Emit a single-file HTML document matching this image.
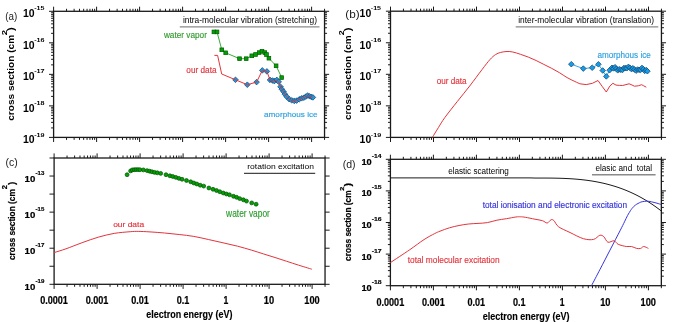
<!DOCTYPE html>
<html><head><meta charset="utf-8"><style>
html,body{margin:0;padding:0;background:#fff;width:685px;height:322px;overflow:hidden}
svg{display:block} svg{will-change:transform;filter:blur(0.3px)}
text{font-family:"Liberation Sans", sans-serif}
</style></head><body>
<svg width="685" height="322" viewBox="0 0 685 322" font-family='"Liberation Sans", sans-serif'>
<rect width="685" height="322" fill="#fff"/>
<path d="M53.6 11.3v-4.6M53.6 137.4v4.6M66.54 11.3v-2.5M66.54 137.4v2.5M74.12 11.3v-2.5M74.12 137.4v2.5M79.49 11.3v-2.5M79.49 137.4v2.5M83.66 11.3v-2.5M83.66 137.4v2.5M87.06 11.3v-2.5M87.06 137.4v2.5M89.94 11.3v-2.5M89.94 137.4v2.5M92.43 11.3v-2.5M92.43 137.4v2.5M94.63 11.3v-2.5M94.63 137.4v2.5M96.6 11.3v-4.6M96.6 137.4v4.6M109.54 11.3v-2.5M109.54 137.4v2.5M117.12 11.3v-2.5M117.12 137.4v2.5M122.49 11.3v-2.5M122.49 137.4v2.5M126.66 11.3v-2.5M126.66 137.4v2.5M130.06 11.3v-2.5M130.06 137.4v2.5M132.94 11.3v-2.5M132.94 137.4v2.5M135.43 11.3v-2.5M135.43 137.4v2.5M137.63 11.3v-2.5M137.63 137.4v2.5M139.6 11.3v-4.6M139.6 137.4v4.6M152.54 11.3v-2.5M152.54 137.4v2.5M160.12 11.3v-2.5M160.12 137.4v2.5M165.49 11.3v-2.5M165.49 137.4v2.5M169.66 11.3v-2.5M169.66 137.4v2.5M173.06 11.3v-2.5M173.06 137.4v2.5M175.94 11.3v-2.5M175.94 137.4v2.5M178.43 11.3v-2.5M178.43 137.4v2.5M180.63 11.3v-2.5M180.63 137.4v2.5M182.6 11.3v-4.6M182.6 137.4v4.6M195.54 11.3v-2.5M195.54 137.4v2.5M203.12 11.3v-2.5M203.12 137.4v2.5M208.49 11.3v-2.5M208.49 137.4v2.5M212.66 11.3v-2.5M212.66 137.4v2.5M216.06 11.3v-2.5M216.06 137.4v2.5M218.94 11.3v-2.5M218.94 137.4v2.5M221.43 11.3v-2.5M221.43 137.4v2.5M223.63 11.3v-2.5M223.63 137.4v2.5M225.6 11.3v-4.6M225.6 137.4v4.6M238.54 11.3v-2.5M238.54 137.4v2.5M246.12 11.3v-2.5M246.12 137.4v2.5M251.49 11.3v-2.5M251.49 137.4v2.5M255.66 11.3v-2.5M255.66 137.4v2.5M259.06 11.3v-2.5M259.06 137.4v2.5M261.94 11.3v-2.5M261.94 137.4v2.5M264.43 11.3v-2.5M264.43 137.4v2.5M266.63 11.3v-2.5M266.63 137.4v2.5M268.6 11.3v-4.6M268.6 137.4v4.6M281.54 11.3v-2.5M281.54 137.4v2.5M289.12 11.3v-2.5M289.12 137.4v2.5M294.49 11.3v-2.5M294.49 137.4v2.5M298.66 11.3v-2.5M298.66 137.4v2.5M302.06 11.3v-2.5M302.06 137.4v2.5M304.94 11.3v-2.5M304.94 137.4v2.5M307.43 11.3v-2.5M307.43 137.4v2.5M309.63 11.3v-2.5M309.63 137.4v2.5M311.6 11.3v-4.6M311.6 137.4v4.6M324.54 11.3v-2.5M324.54 137.4v2.5M53.6 137.4h-4.6M324.54 137.4h4.6M53.6 127.91h-2.5M324.54 127.91h2.5M53.6 122.36h-2.5M324.54 122.36h2.5M53.6 118.42h-2.5M324.54 118.42h2.5M53.6 115.36h-2.5M324.54 115.36h2.5M53.6 112.87h-2.5M324.54 112.87h2.5M53.6 110.76h-2.5M324.54 110.76h2.5M53.6 108.93h-2.5M324.54 108.93h2.5M53.6 107.32h-2.5M324.54 107.32h2.5M53.6 105.88h-4.6M324.54 105.88h4.6M53.6 96.39h-2.5M324.54 96.39h2.5M53.6 90.83h-2.5M324.54 90.83h2.5M53.6 86.9h-2.5M324.54 86.9h2.5M53.6 83.84h-2.5M324.54 83.84h2.5M53.6 81.34h-2.5M324.54 81.34h2.5M53.6 79.23h-2.5M324.54 79.23h2.5M53.6 77.41h-2.5M324.54 77.41h2.5M53.6 75.79h-2.5M324.54 75.79h2.5M53.6 74.35h-4.6M324.54 74.35h4.6M53.6 64.86h-2.5M324.54 64.86h2.5M53.6 59.31h-2.5M324.54 59.31h2.5M53.6 55.37h-2.5M324.54 55.37h2.5M53.6 52.31h-2.5M324.54 52.31h2.5M53.6 49.82h-2.5M324.54 49.82h2.5M53.6 47.71h-2.5M324.54 47.71h2.5M53.6 45.88h-2.5M324.54 45.88h2.5M53.6 44.27h-2.5M324.54 44.27h2.5M53.6 42.83h-4.6M324.54 42.83h4.6M53.6 33.34h-2.5M324.54 33.34h2.5M53.6 27.78h-2.5M324.54 27.78h2.5M53.6 23.85h-2.5M324.54 23.85h2.5M53.6 20.79h-2.5M324.54 20.79h2.5M53.6 18.29h-2.5M324.54 18.29h2.5M53.6 16.18h-2.5M324.54 16.18h2.5M53.6 14.36h-2.5M324.54 14.36h2.5M53.6 12.74h-2.5M324.54 12.74h2.5M53.6 11.3h-4.6M324.54 11.3h4.6" stroke="#1a1a1a" stroke-width="1" fill="none"/>
<rect x="53.6" y="11.3" width="270.94" height="126.1" stroke="#1a1a1a" stroke-width="1.3" fill="none"/>
<path d="M390.5 11.2v-4.6M390.5 137.4v4.6M403.44 11.2v-2.5M403.44 137.4v2.5M411.02 11.2v-2.5M411.02 137.4v2.5M416.39 11.2v-2.5M416.39 137.4v2.5M420.56 11.2v-2.5M420.56 137.4v2.5M423.96 11.2v-2.5M423.96 137.4v2.5M426.84 11.2v-2.5M426.84 137.4v2.5M429.33 11.2v-2.5M429.33 137.4v2.5M431.53 11.2v-2.5M431.53 137.4v2.5M433.5 11.2v-4.6M433.5 137.4v4.6M446.44 11.2v-2.5M446.44 137.4v2.5M454.02 11.2v-2.5M454.02 137.4v2.5M459.39 11.2v-2.5M459.39 137.4v2.5M463.56 11.2v-2.5M463.56 137.4v2.5M466.96 11.2v-2.5M466.96 137.4v2.5M469.84 11.2v-2.5M469.84 137.4v2.5M472.33 11.2v-2.5M472.33 137.4v2.5M474.53 11.2v-2.5M474.53 137.4v2.5M476.5 11.2v-4.6M476.5 137.4v4.6M489.44 11.2v-2.5M489.44 137.4v2.5M497.02 11.2v-2.5M497.02 137.4v2.5M502.39 11.2v-2.5M502.39 137.4v2.5M506.56 11.2v-2.5M506.56 137.4v2.5M509.96 11.2v-2.5M509.96 137.4v2.5M512.84 11.2v-2.5M512.84 137.4v2.5M515.33 11.2v-2.5M515.33 137.4v2.5M517.53 11.2v-2.5M517.53 137.4v2.5M519.5 11.2v-4.6M519.5 137.4v4.6M532.44 11.2v-2.5M532.44 137.4v2.5M540.02 11.2v-2.5M540.02 137.4v2.5M545.39 11.2v-2.5M545.39 137.4v2.5M549.56 11.2v-2.5M549.56 137.4v2.5M552.96 11.2v-2.5M552.96 137.4v2.5M555.84 11.2v-2.5M555.84 137.4v2.5M558.33 11.2v-2.5M558.33 137.4v2.5M560.53 11.2v-2.5M560.53 137.4v2.5M562.5 11.2v-4.6M562.5 137.4v4.6M575.44 11.2v-2.5M575.44 137.4v2.5M583.02 11.2v-2.5M583.02 137.4v2.5M588.39 11.2v-2.5M588.39 137.4v2.5M592.56 11.2v-2.5M592.56 137.4v2.5M595.96 11.2v-2.5M595.96 137.4v2.5M598.84 11.2v-2.5M598.84 137.4v2.5M601.33 11.2v-2.5M601.33 137.4v2.5M603.53 11.2v-2.5M603.53 137.4v2.5M605.5 11.2v-4.6M605.5 137.4v4.6M618.44 11.2v-2.5M618.44 137.4v2.5M626.02 11.2v-2.5M626.02 137.4v2.5M631.39 11.2v-2.5M631.39 137.4v2.5M635.56 11.2v-2.5M635.56 137.4v2.5M638.96 11.2v-2.5M638.96 137.4v2.5M641.84 11.2v-2.5M641.84 137.4v2.5M644.33 11.2v-2.5M644.33 137.4v2.5M646.53 11.2v-2.5M646.53 137.4v2.5M648.5 11.2v-4.6M648.5 137.4v4.6M661.44 11.2v-2.5M661.44 137.4v2.5M390.5 137.4h-4.6M661.44 137.4h4.6M390.5 127.9h-2.5M661.44 127.9h2.5M390.5 122.35h-2.5M661.44 122.35h2.5M390.5 118.41h-2.5M661.44 118.41h2.5M390.5 115.35h-2.5M661.44 115.35h2.5M390.5 112.85h-2.5M661.44 112.85h2.5M390.5 110.74h-2.5M661.44 110.74h2.5M390.5 108.91h-2.5M661.44 108.91h2.5M390.5 107.29h-2.5M661.44 107.29h2.5M390.5 105.85h-4.6M661.44 105.85h4.6M390.5 96.35h-2.5M661.44 96.35h2.5M390.5 90.8h-2.5M661.44 90.8h2.5M390.5 86.86h-2.5M661.44 86.86h2.5M390.5 83.8h-2.5M661.44 83.8h2.5M390.5 81.3h-2.5M661.44 81.3h2.5M390.5 79.19h-2.5M661.44 79.19h2.5M390.5 77.36h-2.5M661.44 77.36h2.5M390.5 75.74h-2.5M661.44 75.74h2.5M390.5 74.3h-4.6M661.44 74.3h4.6M390.5 64.8h-2.5M661.44 64.8h2.5M390.5 59.25h-2.5M661.44 59.25h2.5M390.5 55.31h-2.5M661.44 55.31h2.5M390.5 52.25h-2.5M661.44 52.25h2.5M390.5 49.75h-2.5M661.44 49.75h2.5M390.5 47.64h-2.5M661.44 47.64h2.5M390.5 45.81h-2.5M661.44 45.81h2.5M390.5 44.19h-2.5M661.44 44.19h2.5M390.5 42.75h-4.6M661.44 42.75h4.6M390.5 33.25h-2.5M661.44 33.25h2.5M390.5 27.7h-2.5M661.44 27.7h2.5M390.5 23.76h-2.5M661.44 23.76h2.5M390.5 20.7h-2.5M661.44 20.7h2.5M390.5 18.2h-2.5M661.44 18.2h2.5M390.5 16.09h-2.5M661.44 16.09h2.5M390.5 14.26h-2.5M661.44 14.26h2.5M390.5 12.64h-2.5M661.44 12.64h2.5M390.5 11.2h-4.6M661.44 11.2h4.6" stroke="#1a1a1a" stroke-width="1" fill="none"/>
<rect x="390.5" y="11.2" width="270.94" height="126.2" stroke="#1a1a1a" stroke-width="1.3" fill="none"/>
<path d="M54.1 158v-4.6M54.1 284.3v4.6M67.04 158v-2.5M67.04 284.3v2.5M74.62 158v-2.5M74.62 284.3v2.5M79.99 158v-2.5M79.99 284.3v2.5M84.16 158v-2.5M84.16 284.3v2.5M87.56 158v-2.5M87.56 284.3v2.5M90.44 158v-2.5M90.44 284.3v2.5M92.93 158v-2.5M92.93 284.3v2.5M95.13 158v-2.5M95.13 284.3v2.5M97.1 158v-4.6M97.1 284.3v4.6M110.04 158v-2.5M110.04 284.3v2.5M117.62 158v-2.5M117.62 284.3v2.5M122.99 158v-2.5M122.99 284.3v2.5M127.16 158v-2.5M127.16 284.3v2.5M130.56 158v-2.5M130.56 284.3v2.5M133.44 158v-2.5M133.44 284.3v2.5M135.93 158v-2.5M135.93 284.3v2.5M138.13 158v-2.5M138.13 284.3v2.5M140.1 158v-4.6M140.1 284.3v4.6M153.04 158v-2.5M153.04 284.3v2.5M160.62 158v-2.5M160.62 284.3v2.5M165.99 158v-2.5M165.99 284.3v2.5M170.16 158v-2.5M170.16 284.3v2.5M173.56 158v-2.5M173.56 284.3v2.5M176.44 158v-2.5M176.44 284.3v2.5M178.93 158v-2.5M178.93 284.3v2.5M181.13 158v-2.5M181.13 284.3v2.5M183.1 158v-4.6M183.1 284.3v4.6M196.04 158v-2.5M196.04 284.3v2.5M203.62 158v-2.5M203.62 284.3v2.5M208.99 158v-2.5M208.99 284.3v2.5M213.16 158v-2.5M213.16 284.3v2.5M216.56 158v-2.5M216.56 284.3v2.5M219.44 158v-2.5M219.44 284.3v2.5M221.93 158v-2.5M221.93 284.3v2.5M224.13 158v-2.5M224.13 284.3v2.5M226.1 158v-4.6M226.1 284.3v4.6M239.04 158v-2.5M239.04 284.3v2.5M246.62 158v-2.5M246.62 284.3v2.5M251.99 158v-2.5M251.99 284.3v2.5M256.16 158v-2.5M256.16 284.3v2.5M259.56 158v-2.5M259.56 284.3v2.5M262.44 158v-2.5M262.44 284.3v2.5M264.93 158v-2.5M264.93 284.3v2.5M267.13 158v-2.5M267.13 284.3v2.5M269.1 158v-4.6M269.1 284.3v4.6M282.04 158v-2.5M282.04 284.3v2.5M289.62 158v-2.5M289.62 284.3v2.5M294.99 158v-2.5M294.99 284.3v2.5M299.16 158v-2.5M299.16 284.3v2.5M302.56 158v-2.5M302.56 284.3v2.5M305.44 158v-2.5M305.44 284.3v2.5M307.93 158v-2.5M307.93 284.3v2.5M310.13 158v-2.5M310.13 284.3v2.5M312.1 158v-4.6M312.1 284.3v4.6M325.04 158v-2.5M325.04 284.3v2.5M54.1 284.3h-4.6M325.04 284.3h4.6M54.1 266.26h-4.6M325.04 266.26h4.6M54.1 248.21h-4.6M325.04 248.21h4.6M54.1 230.17h-4.6M325.04 230.17h4.6M54.1 212.13h-4.6M325.04 212.13h4.6M54.1 194.09h-4.6M325.04 194.09h4.6M54.1 176.04h-4.6M325.04 176.04h4.6M54.1 158h-4.6M325.04 158h4.6" stroke="#1a1a1a" stroke-width="1" fill="none"/>
<rect x="54.1" y="158" width="270.94" height="126.3" stroke="#1a1a1a" stroke-width="1.3" fill="none"/>
<path d="M390.4 159.3v-4.6M390.4 285.7v4.6M403.34 159.3v-2.5M403.34 285.7v2.5M410.92 159.3v-2.5M410.92 285.7v2.5M416.29 159.3v-2.5M416.29 285.7v2.5M420.46 159.3v-2.5M420.46 285.7v2.5M423.86 159.3v-2.5M423.86 285.7v2.5M426.74 159.3v-2.5M426.74 285.7v2.5M429.23 159.3v-2.5M429.23 285.7v2.5M431.43 159.3v-2.5M431.43 285.7v2.5M433.4 159.3v-4.6M433.4 285.7v4.6M446.34 159.3v-2.5M446.34 285.7v2.5M453.92 159.3v-2.5M453.92 285.7v2.5M459.29 159.3v-2.5M459.29 285.7v2.5M463.46 159.3v-2.5M463.46 285.7v2.5M466.86 159.3v-2.5M466.86 285.7v2.5M469.74 159.3v-2.5M469.74 285.7v2.5M472.23 159.3v-2.5M472.23 285.7v2.5M474.43 159.3v-2.5M474.43 285.7v2.5M476.4 159.3v-4.6M476.4 285.7v4.6M489.34 159.3v-2.5M489.34 285.7v2.5M496.92 159.3v-2.5M496.92 285.7v2.5M502.29 159.3v-2.5M502.29 285.7v2.5M506.46 159.3v-2.5M506.46 285.7v2.5M509.86 159.3v-2.5M509.86 285.7v2.5M512.74 159.3v-2.5M512.74 285.7v2.5M515.23 159.3v-2.5M515.23 285.7v2.5M517.43 159.3v-2.5M517.43 285.7v2.5M519.4 159.3v-4.6M519.4 285.7v4.6M532.34 159.3v-2.5M532.34 285.7v2.5M539.92 159.3v-2.5M539.92 285.7v2.5M545.29 159.3v-2.5M545.29 285.7v2.5M549.46 159.3v-2.5M549.46 285.7v2.5M552.86 159.3v-2.5M552.86 285.7v2.5M555.74 159.3v-2.5M555.74 285.7v2.5M558.23 159.3v-2.5M558.23 285.7v2.5M560.43 159.3v-2.5M560.43 285.7v2.5M562.4 159.3v-4.6M562.4 285.7v4.6M575.34 159.3v-2.5M575.34 285.7v2.5M582.92 159.3v-2.5M582.92 285.7v2.5M588.29 159.3v-2.5M588.29 285.7v2.5M592.46 159.3v-2.5M592.46 285.7v2.5M595.86 159.3v-2.5M595.86 285.7v2.5M598.74 159.3v-2.5M598.74 285.7v2.5M601.23 159.3v-2.5M601.23 285.7v2.5M603.43 159.3v-2.5M603.43 285.7v2.5M605.4 159.3v-4.6M605.4 285.7v4.6M618.34 159.3v-2.5M618.34 285.7v2.5M625.92 159.3v-2.5M625.92 285.7v2.5M631.29 159.3v-2.5M631.29 285.7v2.5M635.46 159.3v-2.5M635.46 285.7v2.5M638.86 159.3v-2.5M638.86 285.7v2.5M641.74 159.3v-2.5M641.74 285.7v2.5M644.23 159.3v-2.5M644.23 285.7v2.5M646.43 159.3v-2.5M646.43 285.7v2.5M648.4 159.3v-4.6M648.4 285.7v4.6M661.34 159.3v-2.5M661.34 285.7v2.5M390.4 285.7h-4.6M661.34 285.7h4.6M390.4 276.19h-2.5M661.34 276.19h2.5M390.4 270.62h-2.5M661.34 270.62h2.5M390.4 266.67h-2.5M661.34 266.67h2.5M390.4 263.61h-2.5M661.34 263.61h2.5M390.4 261.11h-2.5M661.34 261.11h2.5M390.4 258.99h-2.5M661.34 258.99h2.5M390.4 257.16h-2.5M661.34 257.16h2.5M390.4 255.55h-2.5M661.34 255.55h2.5M390.4 254.1h-4.6M661.34 254.1h4.6M390.4 244.59h-2.5M661.34 244.59h2.5M390.4 239.02h-2.5M661.34 239.02h2.5M390.4 235.07h-2.5M661.34 235.07h2.5M390.4 232.01h-2.5M661.34 232.01h2.5M390.4 229.51h-2.5M661.34 229.51h2.5M390.4 227.39h-2.5M661.34 227.39h2.5M390.4 225.56h-2.5M661.34 225.56h2.5M390.4 223.95h-2.5M661.34 223.95h2.5M390.4 222.5h-4.6M661.34 222.5h4.6M390.4 212.99h-2.5M661.34 212.99h2.5M390.4 207.42h-2.5M661.34 207.42h2.5M390.4 203.47h-2.5M661.34 203.47h2.5M390.4 200.41h-2.5M661.34 200.41h2.5M390.4 197.91h-2.5M661.34 197.91h2.5M390.4 195.79h-2.5M661.34 195.79h2.5M390.4 193.96h-2.5M661.34 193.96h2.5M390.4 192.35h-2.5M661.34 192.35h2.5M390.4 190.9h-4.6M661.34 190.9h4.6M390.4 181.39h-2.5M661.34 181.39h2.5M390.4 175.82h-2.5M661.34 175.82h2.5M390.4 171.87h-2.5M661.34 171.87h2.5M390.4 168.81h-2.5M661.34 168.81h2.5M390.4 166.31h-2.5M661.34 166.31h2.5M390.4 164.19h-2.5M661.34 164.19h2.5M390.4 162.36h-2.5M661.34 162.36h2.5M390.4 160.75h-2.5M661.34 160.75h2.5M390.4 159.3h-4.6M661.34 159.3h4.6" stroke="#1a1a1a" stroke-width="1" fill="none"/>
<rect x="390.4" y="159.3" width="270.94" height="126.4" stroke="#1a1a1a" stroke-width="1.3" fill="none"/>
<text x="23.02" y="143.4" font-size="10.71" font-weight="bold" fill="#000" textLength="11.62" lengthAdjust="spacingAndGlyphs">10</text>
<text x="34.21" y="136.5" font-size="6.14" font-weight="bold" fill="#000" textLength="10.34" lengthAdjust="spacingAndGlyphs">-19</text>
<text x="23.02" y="111.88" font-size="10.71" font-weight="bold" fill="#000" textLength="11.62" lengthAdjust="spacingAndGlyphs">10</text>
<text x="34.21" y="104.97" font-size="6.14" font-weight="bold" fill="#000" textLength="10.3" lengthAdjust="spacingAndGlyphs">-18</text>
<text x="23.02" y="80.35" font-size="10.71" font-weight="bold" fill="#000" textLength="11.62" lengthAdjust="spacingAndGlyphs">10</text>
<text x="34.21" y="73.45" font-size="6.23" font-weight="bold" fill="#000" textLength="10.42" lengthAdjust="spacingAndGlyphs">-17</text>
<text x="23.02" y="48.83" font-size="10.71" font-weight="bold" fill="#000" textLength="11.62" lengthAdjust="spacingAndGlyphs">10</text>
<text x="34.21" y="41.93" font-size="6.14" font-weight="bold" fill="#000" textLength="10.34" lengthAdjust="spacingAndGlyphs">-16</text>
<text x="23.02" y="17.3" font-size="10.71" font-weight="bold" fill="#000" textLength="11.62" lengthAdjust="spacingAndGlyphs">10</text>
<text x="34.22" y="10.4" font-size="6.23" font-weight="bold" fill="#000" textLength="10.26" lengthAdjust="spacingAndGlyphs">-15</text>
<text x="359.62" y="143.4" font-size="10.71" font-weight="bold" fill="#000" textLength="11.62" lengthAdjust="spacingAndGlyphs">10</text>
<text x="370.81" y="136.5" font-size="6.14" font-weight="bold" fill="#000" textLength="10.34" lengthAdjust="spacingAndGlyphs">-19</text>
<text x="359.62" y="111.85" font-size="10.71" font-weight="bold" fill="#000" textLength="11.62" lengthAdjust="spacingAndGlyphs">10</text>
<text x="370.81" y="104.95" font-size="6.14" font-weight="bold" fill="#000" textLength="10.3" lengthAdjust="spacingAndGlyphs">-18</text>
<text x="359.62" y="80.3" font-size="10.71" font-weight="bold" fill="#000" textLength="11.62" lengthAdjust="spacingAndGlyphs">10</text>
<text x="370.81" y="73.4" font-size="6.23" font-weight="bold" fill="#000" textLength="10.42" lengthAdjust="spacingAndGlyphs">-17</text>
<text x="359.62" y="48.75" font-size="10.71" font-weight="bold" fill="#000" textLength="11.62" lengthAdjust="spacingAndGlyphs">10</text>
<text x="370.81" y="41.85" font-size="6.14" font-weight="bold" fill="#000" textLength="10.34" lengthAdjust="spacingAndGlyphs">-16</text>
<text x="359.62" y="17.2" font-size="10.71" font-weight="bold" fill="#000" textLength="11.62" lengthAdjust="spacingAndGlyphs">10</text>
<text x="370.82" y="10.3" font-size="6.23" font-weight="bold" fill="#000" textLength="10.26" lengthAdjust="spacingAndGlyphs">-15</text>
<text x="24.57" y="181.94" font-size="8.86" font-weight="bold" fill="#000" textLength="10.74" lengthAdjust="spacingAndGlyphs" stroke="#000" stroke-width="0.2">10</text>
<text x="35.55" y="175.04" font-size="5.29" font-weight="bold" fill="#000" textLength="8.86" lengthAdjust="spacingAndGlyphs" stroke="#000" stroke-width="0.15">-13</text>
<text x="24.57" y="218.03" font-size="8.86" font-weight="bold" fill="#000" textLength="10.74" lengthAdjust="spacingAndGlyphs" stroke="#000" stroke-width="0.2">10</text>
<text x="35.56" y="211.13" font-size="5.36" font-weight="bold" fill="#000" textLength="8.8" lengthAdjust="spacingAndGlyphs" stroke="#000" stroke-width="0.15">-15</text>
<text x="24.57" y="254.11" font-size="8.86" font-weight="bold" fill="#000" textLength="10.74" lengthAdjust="spacingAndGlyphs" stroke="#000" stroke-width="0.2">10</text>
<text x="35.55" y="247.21" font-size="5.36" font-weight="bold" fill="#000" textLength="8.93" lengthAdjust="spacingAndGlyphs" stroke="#000" stroke-width="0.15">-17</text>
<text x="24.57" y="290.2" font-size="8.86" font-weight="bold" fill="#000" textLength="10.74" lengthAdjust="spacingAndGlyphs" stroke="#000" stroke-width="0.2">10</text>
<text x="35.55" y="283.3" font-size="5.29" font-weight="bold" fill="#000" textLength="8.86" lengthAdjust="spacingAndGlyphs" stroke="#000" stroke-width="0.15">-19</text>
<text x="361.4" y="291.2" font-size="8.57" font-weight="bold" fill="#000" textLength="10.29" lengthAdjust="spacingAndGlyphs" stroke="#000" stroke-width="0.2">10</text>
<text x="371.73" y="284.2" font-size="5" font-weight="bold" fill="#000" textLength="9.88" lengthAdjust="spacingAndGlyphs" stroke="#000" stroke-width="0.15">-18</text>
<text x="361.4" y="259.6" font-size="8.57" font-weight="bold" fill="#000" textLength="10.29" lengthAdjust="spacingAndGlyphs" stroke="#000" stroke-width="0.2">10</text>
<text x="371.72" y="252.6" font-size="5.07" font-weight="bold" fill="#000" textLength="9.99" lengthAdjust="spacingAndGlyphs" stroke="#000" stroke-width="0.15">-17</text>
<text x="361.4" y="228" font-size="8.57" font-weight="bold" fill="#000" textLength="10.29" lengthAdjust="spacingAndGlyphs" stroke="#000" stroke-width="0.2">10</text>
<text x="371.73" y="221" font-size="5" font-weight="bold" fill="#000" textLength="9.92" lengthAdjust="spacingAndGlyphs" stroke="#000" stroke-width="0.15">-16</text>
<text x="361.4" y="196.4" font-size="8.57" font-weight="bold" fill="#000" textLength="10.29" lengthAdjust="spacingAndGlyphs" stroke="#000" stroke-width="0.2">10</text>
<text x="371.73" y="189.4" font-size="5.07" font-weight="bold" fill="#000" textLength="9.85" lengthAdjust="spacingAndGlyphs" stroke="#000" stroke-width="0.15">-15</text>
<text x="361.4" y="164.8" font-size="8.57" font-weight="bold" fill="#000" textLength="10.29" lengthAdjust="spacingAndGlyphs" stroke="#000" stroke-width="0.2">10</text>
<text x="371.73" y="157.8" font-size="5.07" font-weight="bold" fill="#000" textLength="9.7" lengthAdjust="spacingAndGlyphs" stroke="#000" stroke-width="0.15">-14</text>
<text x="5.31" y="19.9" font-size="10.76" font-weight="normal" fill="#1a1a1a" textLength="12" lengthAdjust="spacingAndGlyphs">(a)</text>
<text x="345.3" y="17.5" font-size="10.48" font-weight="normal" fill="#1a1a1a" textLength="14.33" lengthAdjust="spacingAndGlyphs">(b)</text>
<text x="5.57" y="165.9" font-size="10.62" font-weight="normal" fill="#1a1a1a" textLength="12.16" lengthAdjust="spacingAndGlyphs">(c)</text>
<text x="342.67" y="167.5" font-size="10.76" font-weight="normal" fill="#1a1a1a" textLength="12.89" lengthAdjust="spacingAndGlyphs">(d)</text>
<text transform="translate(13.8,120.4) rotate(-90)" x="-0.4" y="0" font-size="9.38" font-weight="bold" fill="#000" textLength="85.95" lengthAdjust="spacingAndGlyphs">cross section (cm</text>
<text transform="translate(6.7,35) rotate(-90)" x="-0.34" y="0" font-size="7.43" font-weight="bold" fill="#000" textLength="5.33" lengthAdjust="spacingAndGlyphs">2</text>
<text transform="translate(13.8,30.9) rotate(-90)" x="-0.06" y="0" font-size="9.38" font-weight="bold" fill="#000" textLength="3.69" lengthAdjust="spacingAndGlyphs">)</text>
<text transform="translate(350.8,119.7) rotate(-90)" x="-0.4" y="0" font-size="9.1" font-weight="bold" fill="#000" textLength="84.73" lengthAdjust="spacingAndGlyphs">cross section (cm</text>
<text transform="translate(344,35) rotate(-90)" x="-0.31" y="0" font-size="7.29" font-weight="bold" fill="#000" textLength="4.98" lengthAdjust="spacingAndGlyphs">2</text>
<text transform="translate(350.8,31.1) rotate(-90)" x="-0.06" y="0" font-size="9.1" font-weight="bold" fill="#000" textLength="3.69" lengthAdjust="spacingAndGlyphs">)</text>
<text transform="translate(15,259.7) rotate(-90)" x="-0.33" y="0" font-size="9.38" font-weight="bold" fill="#000" textLength="70.96" lengthAdjust="spacingAndGlyphs" stroke="#000" stroke-width="0.2">cross section (cm</text>
<text transform="translate(7.2,189.1) rotate(-90)" x="-0.26" y="0" font-size="6.29" font-weight="bold" fill="#000" textLength="4.17" lengthAdjust="spacingAndGlyphs" stroke="#000" stroke-width="0.2">2</text>
<text transform="translate(15,185) rotate(-90)" x="-0.05" y="0" font-size="9.38" font-weight="bold" fill="#000" textLength="3.33" lengthAdjust="spacingAndGlyphs" stroke="#000" stroke-width="0.2">)</text>
<text transform="translate(351.2,260.6) rotate(-90)" x="-0.33" y="0" font-size="9.1" font-weight="bold" fill="#000" textLength="70.46" lengthAdjust="spacingAndGlyphs" stroke="#000" stroke-width="0.2">cross section (cm</text>
<text transform="translate(343.6,190.4) rotate(-90)" x="-0.26" y="0" font-size="5.71" font-weight="bold" fill="#000" textLength="4.06" lengthAdjust="spacingAndGlyphs" stroke="#000" stroke-width="0.2">2</text>
<text transform="translate(351.2,186.5) rotate(-90)" x="-0.05" y="0" font-size="9.1" font-weight="bold" fill="#000" textLength="3.57" lengthAdjust="spacingAndGlyphs" stroke="#000" stroke-width="0.2">)</text>
<text x="40.13" y="303.8" font-size="10.14" font-weight="bold" fill="#000" textLength="27.8" lengthAdjust="spacingAndGlyphs" stroke="#000" stroke-width="0.2">0.0001</text>
<text x="85.66" y="303.8" font-size="10.14" font-weight="bold" fill="#000" textLength="22.76" lengthAdjust="spacingAndGlyphs" stroke="#000" stroke-width="0.2">0.001</text>
<text x="131.2" y="303.8" font-size="10.14" font-weight="bold" fill="#000" textLength="17.68" lengthAdjust="spacingAndGlyphs" stroke="#000" stroke-width="0.2">0.01</text>
<text x="176.73" y="303.8" font-size="10.14" font-weight="bold" fill="#000" textLength="12.6" lengthAdjust="spacingAndGlyphs" stroke="#000" stroke-width="0.2">0.1</text>
<text x="223.54" y="303.8" font-size="10.29" font-weight="bold" fill="#000" textLength="4.78" lengthAdjust="spacingAndGlyphs" stroke="#000" stroke-width="0.2">1</text>
<text x="263.83" y="303.8" font-size="10.14" font-weight="bold" fill="#000" textLength="10.34" lengthAdjust="spacingAndGlyphs" stroke="#000" stroke-width="0.2">10</text>
<text x="304.29" y="303.8" font-size="10.14" font-weight="bold" fill="#000" textLength="15.41" lengthAdjust="spacingAndGlyphs" stroke="#000" stroke-width="0.2">100</text>
<text x="376.43" y="305.9" font-size="10.57" font-weight="bold" fill="#000" textLength="27.8" lengthAdjust="spacingAndGlyphs" stroke="#000" stroke-width="0.2">0.0001</text>
<text x="421.96" y="305.9" font-size="10.57" font-weight="bold" fill="#000" textLength="22.76" lengthAdjust="spacingAndGlyphs" stroke="#000" stroke-width="0.2">0.001</text>
<text x="467.5" y="305.9" font-size="10.57" font-weight="bold" fill="#000" textLength="17.68" lengthAdjust="spacingAndGlyphs" stroke="#000" stroke-width="0.2">0.01</text>
<text x="513.03" y="305.9" font-size="10.57" font-weight="bold" fill="#000" textLength="12.6" lengthAdjust="spacingAndGlyphs" stroke="#000" stroke-width="0.2">0.1</text>
<text x="559.84" y="305.9" font-size="10.72" font-weight="bold" fill="#000" textLength="4.78" lengthAdjust="spacingAndGlyphs" stroke="#000" stroke-width="0.2">1</text>
<text x="600.13" y="305.9" font-size="10.57" font-weight="bold" fill="#000" textLength="10.34" lengthAdjust="spacingAndGlyphs" stroke="#000" stroke-width="0.2">10</text>
<text x="640.59" y="305.9" font-size="10.57" font-weight="bold" fill="#000" textLength="15.41" lengthAdjust="spacingAndGlyphs" stroke="#000" stroke-width="0.2">100</text>
<text x="146.24" y="318" font-size="10.07" font-weight="bold" fill="#000" textLength="86.2" lengthAdjust="spacingAndGlyphs" stroke="#000" stroke-width="0.15">electron energy (eV)</text>
<text x="482.74" y="319.7" font-size="10.48" font-weight="bold" fill="#000" textLength="86.71" lengthAdjust="spacingAndGlyphs" stroke="#000" stroke-width="0.15">electron energy (eV)</text>
<text x="182.95" y="22.8" font-size="8.55" font-weight="normal" fill="#000" textLength="134.06" lengthAdjust="spacingAndGlyphs">intra-molecular vibration (stretching)</text>
<line x1="179.8" y1="26.9" x2="319.5" y2="26.9" stroke="#8a8a8a" stroke-width="1.4"/>
<text x="518.26" y="22.8" font-size="8.55" font-weight="normal" fill="#000" textLength="135.78" lengthAdjust="spacingAndGlyphs">inter-molecular vibration (translation)</text>
<line x1="515.7" y1="26.9" x2="658.3" y2="26.9" stroke="#8a8a8a" stroke-width="1.4"/>
<text x="247.25" y="169.4" font-size="7.67" font-weight="normal" fill="#000" textLength="66.73" lengthAdjust="spacingAndGlyphs">rotation excitation</text>
<line x1="244" y1="173.3" x2="315.2" y2="173.3" stroke="#444" stroke-width="1.2"/>
<text x="448.13" y="173.6" font-size="8.71" font-weight="normal" fill="#000" textLength="60.62" lengthAdjust="spacingAndGlyphs">elastic scattering</text>
<text x="595.43" y="170.8" font-size="8.86" font-weight="normal" fill="#000" textLength="56.73" lengthAdjust="spacingAndGlyphs" style="white-space:pre">elasic and  total</text>
<line x1="592" y1="174.8" x2="655.6" y2="174.8" stroke="#8a8a8a" stroke-width="1.4"/>
<text x="163.9" y="38.4" font-size="9.88" font-weight="normal" fill="#2e9a2e" textLength="43.06" lengthAdjust="spacingAndGlyphs" stroke="#2e9a2e" stroke-width="0.15">water vapor</text>
<text x="186.37" y="73.4" font-size="8.71" font-weight="normal" fill="#e3343c" textLength="30.12" lengthAdjust="spacingAndGlyphs" stroke="#e3343c" stroke-width="0.15">our data</text>
<text x="264.03" y="116.5" font-size="8.12" font-weight="normal" fill="#2aa0e0" textLength="53.63" lengthAdjust="spacingAndGlyphs" stroke="#2aa0e0" stroke-width="0.15">amorphous ice</text>
<text x="436.67" y="83.5" font-size="9.15" font-weight="normal" fill="#e3343c" textLength="29.92" lengthAdjust="spacingAndGlyphs" stroke="#e3343c" stroke-width="0.15">our data</text>
<text x="597.53" y="58.4" font-size="9" font-weight="normal" fill="#2aa0e0" textLength="53.33" lengthAdjust="spacingAndGlyphs" stroke="#2aa0e0" stroke-width="0.15">amorphous ice</text>
<text x="226.1" y="217.3" font-size="10.04" font-weight="normal" fill="#2e9a2e" textLength="43.77" lengthAdjust="spacingAndGlyphs" stroke="#2e9a2e" stroke-width="0.15">water vapor</text>
<text x="113.16" y="227" font-size="7.97" font-weight="normal" fill="#e3343c" textLength="30.93" lengthAdjust="spacingAndGlyphs" stroke="#e3343c" stroke-width="0.15">our data</text>
<text x="482.68" y="208.1" font-size="8.71" font-weight="normal" fill="#3333dd" textLength="144.36" lengthAdjust="spacingAndGlyphs" stroke="#3333dd" stroke-width="0.15">total ionisation and electronic excitation</text>
<text x="407.67" y="262.9" font-size="9.59" font-weight="normal" fill="#e3343c" textLength="91.97" lengthAdjust="spacingAndGlyphs" stroke="#e3343c" stroke-width="0.15">total molecular excitation</text>
<path d="M213.9 31.9 L217 31.9 L221.8 49.8 L225.7 52.8 L239.5 58.7 L246.2 58.7 L251.8 55.8 L255.5 54.5 L259.2 52.6 L262 51.3 L264.8 52.6 L266.5 54.5 L268.9 58.2 L276.1 65.8 L281.7 77.6" stroke="#3aac3a" stroke-width="1.0" fill="none" stroke-linejoin="round"/>
<g fill="#00a000" stroke="#005a00" stroke-width="0.7"><rect x="212.05" y="30.05" width="3.7" height="3.7"/><rect x="215.15" y="30.05" width="3.7" height="3.7"/><rect x="219.95" y="47.95" width="3.7" height="3.7"/><rect x="223.85" y="50.95" width="3.7" height="3.7"/><rect x="237.65" y="56.85" width="3.7" height="3.7"/><rect x="244.35" y="56.85" width="3.7" height="3.7"/><rect x="249.95" y="53.95" width="3.7" height="3.7"/><rect x="253.65" y="52.65" width="3.7" height="3.7"/><rect x="257.35" y="50.75" width="3.7" height="3.7"/><rect x="260.15" y="49.45" width="3.7" height="3.7"/><rect x="262.95" y="50.75" width="3.7" height="3.7"/><rect x="264.65" y="52.65" width="3.7" height="3.7"/><rect x="267.05" y="56.35" width="3.7" height="3.7"/><rect x="274.25" y="63.95" width="3.7" height="3.7"/><rect x="279.85" y="75.75" width="3.7" height="3.7"/></g>
<g fill="#109fea" stroke="#1e466f" stroke-width="0.75"><path d="M235.5 77L238.3 79.8L235.5 82.6L232.7 79.8Z"/><path d="M247.3 81.9L250.1 84.7L247.3 87.5L244.5 84.7Z"/><path d="M256.6 79.3L259.4 82.1L256.6 84.9L253.8 82.1Z"/><path d="M262.3 67.6L265.1 70.4L262.3 73.2L259.5 70.4Z"/><path d="M266.9 68.6L269.7 71.4L266.9 74.2L264.1 71.4Z"/><path d="M270 77.1L272.8 79.9L270 82.7L267.2 79.9Z"/><path d="M272.5 77.7L275.3 80.5L272.5 83.3L269.7 80.5Z"/><path d="M274.3 78.3L277.1 81.1L274.3 83.9L271.5 81.1Z"/><path d="M276.8 77.1L279.6 79.9L276.8 82.7L274 79.9Z"/><path d="M278.7 79L281.5 81.8L278.7 84.6L275.9 81.8Z"/><path d="M280.5 83.9L283.3 86.7L280.5 89.5L277.7 86.7Z"/><path d="M281.8 86.4L284.6 89.2L281.8 92L279 89.2Z"/><path d="M283.6 88.9L286.4 91.7L283.6 94.5L280.8 91.7Z"/><path d="M284.9 91.4L287.7 94.2L284.9 97L282.1 94.2Z"/><path d="M286.7 93.9L289.5 96.7L286.7 99.5L283.9 96.7Z"/><path d="M289.2 96.4L292 99.2L289.2 102L286.4 99.2Z"/><path d="M291.7 97.5L294.5 100.3L291.7 103.1L288.9 100.3Z"/><path d="M294.2 98.1L297 100.9L294.2 103.7L291.4 100.9Z"/><path d="M296.6 97.8L299.4 100.6L296.6 103.4L293.8 100.6Z"/><path d="M299.2 96.5L302 99.3L299.2 102.1L296.4 99.3Z"/><path d="M301.6 95.5L304.4 98.3L301.6 101.1L298.8 98.3Z"/><path d="M303.8 94.9L306.6 97.7L303.8 100.5L301 97.7Z"/><path d="M305.8 93.8L308.6 96.6L305.8 99.4L303 96.6Z"/><path d="M307.6 92.7L310.4 95.5L307.6 98.3L304.8 95.5Z"/><path d="M309.6 93.5L312.4 96.3L309.6 99.1L306.8 96.3Z"/><path d="M311.3 94.1L314.1 96.9L311.3 99.7L308.5 96.9Z"/><path d="M312.9 94.6L315.7 97.4L312.9 100.2L310.1 97.4Z"/></g>
<path d="M214.4 55.4 L217.6 55.4 L221.7 74 L235.5 79.8 L247.3 84.7 L256.6 82.1 L262.3 70.4 L266.9 71.4 L270 79.9 L272.5 80.5 L274.3 81.1 L276.8 79.9 L278.7 81.8 L280.5 86.7 L281.8 89.2 L283.6 91.7 L284.9 94.2 L286.7 96.7 L289.2 99.2 L291.7 100.3 L294.2 100.9 L296.6 100.6 L299.2 99.3 L301.6 98.3 L303.8 97.7 L305.8 96.6 L307.6 95.5 L309.6 96.3 L311.3 96.9 L312.9 97.4" stroke="#e3343c" stroke-width="1.0" fill="none" stroke-linejoin="round"/>
<path d="M432.4 137.4 C433.42 135.73 436.43 130.7 438.5 127.4 C440.57 124.1 441.67 121.92 444.8 117.6 C447.93 113.28 453.15 106.77 457.3 101.5 C461.45 96.23 465.57 91.33 469.7 86 C473.83 80.67 478.72 73.92 482.1 69.5 C485.48 65.08 487.77 61.98 490 59.5 C492.23 57.02 493.72 55.78 495.5 54.6 C497.28 53.42 498.78 52.92 500.7 52.4 C502.62 51.88 504.98 51.57 507 51.5 C509.02 51.43 510.55 51.53 512.8 52 C515.05 52.47 517.92 53.45 520.5 54.3 C523.08 55.15 525.7 56.07 528.3 57.1 C530.9 58.13 533.52 59.28 536.1 60.5 C538.68 61.72 541.22 63.1 543.8 64.4 C546.38 65.7 549.02 66.93 551.6 68.3 C554.18 69.67 556.72 71.05 559.3 72.6 C561.88 74.15 564.5 76.12 567.1 77.6 C569.7 79.08 572.75 80.47 574.9 81.5 C577.05 82.53 579.15 83.42 580 83.8" stroke="#e3343c" stroke-width="1.0" fill="none"/>
<path d="M580 83.8 L586.2 84.6 L592.4 83.3 L598 80.5 L602.4 86.7 L606.3 92 L609.8 86.1 L612.9 83.3 L616 85.1 L619.5 85.4 L622.6 85.5 L626 84.6 L629.1 83.8 L632 85 L634.4 86.2 L638.3 85.8 L641.6 84.7 L643.7 85.8 L646.3 87.2" stroke="#e3343c" stroke-width="1.0" fill="none" stroke-linejoin="round"/>
<path d="M571.3 64.2 L583.3 68.6 L592.2 67.7 L598.4 64.3 L602.7 70.5 L606.3 76.4 L609.6 70.2 L612 67.8 L614.7 67.6 L617 69.4 L619 70 L622 69.5 L624.6 68.4 L627 67.5 L629.3 67.6 L632 68.6 L634.6 69.6 L638 70.3 L640 69.5 L641.6 68.5 L643.5 69.2 L645 70.4 L647.4 71.2" stroke="#35a8e6" stroke-width="1.0" fill="none" stroke-linejoin="round"/>
<g fill="#109fea" stroke="#1e466f" stroke-width="0.75"><path d="M571.3 61.4L574.1 64.2L571.3 67L568.5 64.2Z"/><path d="M583.3 65.8L586.1 68.6L583.3 71.4L580.5 68.6Z"/><path d="M592.2 64.9L595 67.7L592.2 70.5L589.4 67.7Z"/><path d="M598.4 61.5L601.2 64.3L598.4 67.1L595.6 64.3Z"/><path d="M602.7 67.7L605.5 70.5L602.7 73.3L599.9 70.5Z"/><path d="M606.3 73.6L609.1 76.4L606.3 79.2L603.5 76.4Z"/><path d="M609.6 67.4L612.4 70.2L609.6 73L606.8 70.2Z"/><path d="M612 65L614.8 67.8L612 70.6L609.2 67.8Z"/><path d="M613.6 65.58L616.4 68.38L613.6 71.18L610.8 68.38Z"/><path d="M615.09 64.4L617.89 67.2L615.09 70L612.29 67.2Z"/><path d="M616.35 66.09L619.15 68.89L616.35 71.69L613.55 68.89Z"/><path d="M617.74 67.52L620.54 70.32L617.74 73.12L614.94 70.32Z"/><path d="M619.28 66.45L622.08 69.25L619.28 72.05L616.48 69.25Z"/><path d="M620.86 66.89L623.66 69.69L620.86 72.49L618.06 69.69Z"/><path d="M622.41 67.23L625.21 70.03L622.41 72.83L619.61 70.03Z"/><path d="M623.88 65.2L626.68 68L623.88 70.8L621.08 68Z"/><path d="M625.37 65.31L628.17 68.11L625.37 70.91L622.57 68.11Z"/><path d="M626.87 65.45L629.67 68.25L626.87 71.05L624.07 68.25Z"/><path d="M628.45 64.06L631.25 66.86L628.45 69.66L625.65 66.86Z"/><path d="M630.01 65.06L632.81 67.86L630.01 70.66L627.21 67.86Z"/><path d="M631.51 66.32L634.31 69.12L631.51 71.92L628.71 69.12Z"/><path d="M633 65.49L635.8 68.29L633 71.09L630.2 68.29Z"/><path d="M634.5 66.76L637.3 69.56L634.5 72.36L631.7 69.56Z"/><path d="M636.06 67.8L638.86 70.6L636.06 73.4L633.26 70.6Z"/><path d="M637.63 66.72L640.43 69.52L637.63 72.32L634.83 69.52Z"/><path d="M639.13 67.05L641.93 69.85L639.13 72.65L636.33 69.85Z"/><path d="M640.56 67.05L643.36 69.85L640.56 72.65L637.76 69.85Z"/><path d="M641.95 65.13L644.75 67.93L641.95 70.73L639.15 67.93Z"/><path d="M643.46 66.38L646.26 69.18L643.46 71.98L640.66 69.18Z"/><path d="M644.71 68.07L647.51 70.87L644.71 73.67L641.91 70.87Z"/><path d="M646.17 67.29L648.97 70.09L646.17 72.89L643.37 70.09Z"/><path d="M647.4 68.4L650.2 71.2L647.4 74L644.6 71.2Z"/></g>
<path d="M54.1 252.6 C56.08 251.97 61.33 250.45 66 248.8 C70.67 247.15 76.73 244.63 82.1 242.7 C87.47 240.77 92.85 238.75 98.2 237.2 C103.55 235.65 108.85 234.32 114.2 233.4 C119.55 232.48 126.28 232.03 130.3 231.7 C134.32 231.37 135.02 231.37 138.3 231.4 C141.58 231.43 145.62 231.63 150 231.9 C154.38 232.17 159.73 232.57 164.6 233 C169.47 233.43 174.33 233.93 179.2 234.5 C184.07 235.07 188.93 235.57 193.8 236.4 C198.67 237.23 203.53 238.43 208.4 239.5 C213.27 240.57 218.13 241.68 223 242.8 C227.87 243.92 232.82 244.97 237.6 246.2 C242.38 247.43 247.4 248.92 251.7 250.2 C256 251.48 259.52 252.68 263.4 253.9 C267.28 255.12 271.12 256.27 275 257.5 C278.88 258.73 282.8 260.03 286.7 261.3 C290.6 262.57 294.22 263.78 298.4 265.1 C302.58 266.42 309.57 268.52 311.8 269.2" stroke="#e3343c" stroke-width="1.0" fill="none"/>
<g fill="#02a002" stroke="#045004" stroke-width="0.7"><circle cx="127.1" cy="174.7" r="1.95"/><circle cx="130.6" cy="170.9" r="1.95"/><circle cx="132.4" cy="169.9" r="1.95"/><circle cx="134.3" cy="169.7" r="1.95"/><circle cx="136.1" cy="169.6" r="1.95"/><circle cx="138" cy="169.6" r="1.95"/><circle cx="139.9" cy="169.7" r="1.95"/><circle cx="143.4" cy="169.9" r="1.95"/><circle cx="147.1" cy="170.6" r="1.95"/><circle cx="149.6" cy="171.2" r="1.95"/><circle cx="152" cy="171.8" r="1.95"/><circle cx="154.5" cy="172.4" r="1.95"/><circle cx="157.3" cy="172.8" r="1.95"/><circle cx="160.7" cy="173.4" r="1.95"/><circle cx="166" cy="174.7" r="1.95"/><circle cx="169.9" cy="175.8" r="1.95"/><circle cx="172.8" cy="176.5" r="1.95"/><circle cx="175.9" cy="177.4" r="1.95"/><circle cx="179" cy="178.4" r="1.95"/><circle cx="182.1" cy="179.3" r="1.95"/><circle cx="186.5" cy="180.5" r="1.95"/><circle cx="190.7" cy="181.8" r="1.95"/><circle cx="193.8" cy="183" r="1.95"/><circle cx="196.8" cy="184" r="1.95"/><circle cx="200.2" cy="185.2" r="1.95"/><circle cx="203.7" cy="186.1" r="1.95"/><circle cx="208.9" cy="188" r="1.95"/><circle cx="213" cy="189.3" r="1.95"/><circle cx="216.5" cy="190.5" r="1.95"/><circle cx="219.8" cy="191.7" r="1.95"/><circle cx="223.3" cy="193" r="1.95"/><circle cx="226.4" cy="194" r="1.95"/><circle cx="229.5" cy="194.8" r="1.95"/><circle cx="233.5" cy="196.3" r="1.95"/><circle cx="236.6" cy="197.3" r="1.95"/><circle cx="239.7" cy="198.6" r="1.95"/><circle cx="243.4" cy="199.8" r="1.95"/><circle cx="246.5" cy="201.1" r="1.95"/><circle cx="251.7" cy="202.9" r="1.95"/><circle cx="256.1" cy="204.2" r="1.95"/></g>
<path d="M390.4 177.9 L530 177.9 L536 178.07 L539 178.06 L542 178.05 L545 178.05 L548 178.07 L551 178.09 L554 178.13 L557 178.19 L560 178.27 L563 178.37 L566 178.5 L569 178.65 L572 178.84 L575 179.06 L578 179.31 L581 179.6 L584 179.93 L587 180.31 L590 180.73 L593 181.2 L596 181.73 L599 182.3 L602 182.93 L605 183.62 L608 184.38 L611 185.19 L614 186.08 L617 187.03 L620 188.06 L623 189.16 L626 190.34 L629 191.6 L632 192.94 L635 194.37 L638 195.89 L641 197.49 L644 199.2 L647 201 L650 202.9 L653 204.9 L656 207.01 L659 209.23 L661.2 210.93" stroke="#1a1a1a" stroke-width="1.0" fill="none" stroke-linejoin="round"/>
<path d="M591.5 285.7 C592.92 282.98 596.92 275.33 600 269.4 C603.08 263.47 606.67 256.53 610 250.1 C613.33 243.67 617.58 235.52 620 230.8 C622.42 226.08 623.25 224.33 624.5 221.8 C625.75 219.27 626.37 217.67 627.5 215.6 C628.63 213.53 630.22 210.95 631.3 209.4 C632.38 207.85 633.1 207.17 634 206.3 C634.9 205.43 635.78 204.8 636.7 204.2 C637.62 203.6 638.58 203.12 639.5 202.7 C640.42 202.28 641.03 201.95 642.2 201.7 C643.37 201.45 645.2 201.23 646.5 201.2 C647.8 201.17 648.92 201.33 650 201.5 C651.08 201.67 651.83 201.92 653 202.2 C654.17 202.48 655.65 202.82 657 203.2 C658.35 203.58 660.42 204.28 661.1 204.5" stroke="#3535e0" stroke-width="1.0" fill="none"/>
<path d="M390.4 262.6 C393.63 260.45 404.2 253.53 409.8 249.7 C415.4 245.87 419.87 242.28 424 239.6 C428.13 236.92 431.93 235 434.6 233.6 C437.27 232.2 437.52 232.17 440 231.2 C442.48 230.23 446.33 228.75 449.5 227.8 C452.67 226.85 455.83 226.13 459 225.5 C462.17 224.87 465.33 224.35 468.5 224 C471.67 223.65 474.85 223.63 478 223.4 C481.15 223.17 484.25 223.13 487.4 222.6 C490.55 222.07 493.73 220.85 496.9 220.2 C500.07 219.55 503.23 219.23 506.4 218.7 C509.57 218.17 513.53 217.32 515.9 217 C518.27 216.68 519.02 216.75 520.6 216.8 C522.18 216.85 523.02 216.9 525.4 217.3 C527.78 217.7 532.05 218.63 534.9 219.2 C537.75 219.77 540.45 220.07 542.5 220.7 C544.55 221.33 545.78 223.15 547.2 223 C548.62 222.85 549.88 220.2 551 219.8 C552.12 219.4 552.63 219.43 553.9 220.6 C555.17 221.77 555.92 224.82 558.6 226.8 C561.28 228.78 565.87 230.52 570 232.5 C574.13 234.48 579.47 237.55 583.4 238.7 C587.33 239.85 590.87 239.97 593.6 239.4 C596.33 238.83 598.1 235.75 599.8 235.3 C601.5 234.85 602.45 235.55 603.8 236.7 C605.15 237.85 606.18 241.52 607.9 242.2 C609.62 242.88 612.38 240.45 614.1 240.8 C615.82 241.15 616.17 243.35 618.2 244.3 C620.23 245.25 624.08 246.13 626.3 246.5 C628.52 246.87 629.78 246.18 631.5 246.5 C633.22 246.82 635.07 248.08 636.6 248.4 C638.13 248.72 639.52 248.72 640.7 248.4 C641.88 248.08 642.42 246.5 643.7 246.5 C644.98 246.5 647.62 248.08 648.4 248.4" stroke="#e3343c" stroke-width="1.0" fill="none"/>
</svg>
</body></html>
